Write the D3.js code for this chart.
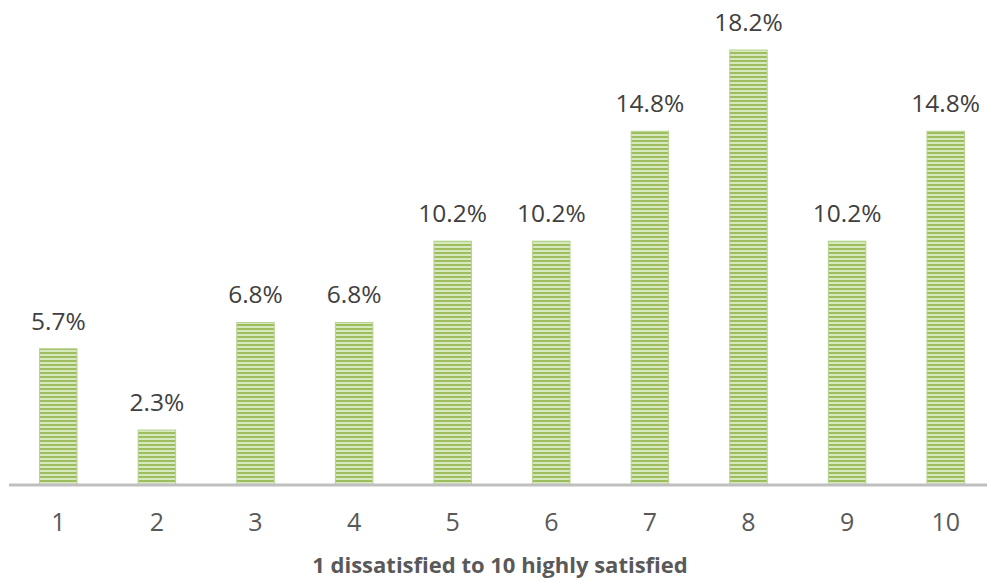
<!DOCTYPE html>
<html><head><meta charset="utf-8">
<script src="https://cdn.jsdelivr.net/npm/d3@7"></script>
<style>body{margin:0;background:#fff}svg{display:block}</style>
</head><body>
<svg id="c" width="987" height="582"></svg>
<script>
const categories = ["1","2","3","4","5","6","7","8","9","10"];
const values = [5.7, 2.3, 6.8, 6.8, 10.2, 10.2, 14.8, 18.2, 10.2, 14.8];
const valueLabels = ["5.7%","2.3%","6.8%","6.8%","10.2%","10.2%","14.8%","18.2%","10.2%","14.8%"];
const axisTitle = "1 dissatisfied to 10 highly satisfied";

const svg = d3.select("#c");
const base = 485;
const x = d3.scaleBand().domain(categories).range([9, 995]).paddingInner(0.62).paddingOuter(0.31);
const y = d3.scaleLinear().domain([0, 18.2]).range([base, 50]);

const defs = svg.append("defs");
const pat = defs.append("pattern").attr("id","stripes").attr("patternUnits","userSpaceOnUse")
  .attr("width", 8).attr("height", 4);
pat.append("rect").attr("width",8).attr("height",4).attr("fill","#d6e8bd");
pat.append("rect").attr("width",8).attr("height",2).attr("fill","#9ebd5f");

svg.append("g").selectAll("rect").data(values).join("rect")
  .attr("x", (d,i)=>x(categories[i]))
  .attr("width", x.bandwidth())
  .attr("y", d=>y(d))
  .attr("height", d=>base - y(d))
  .attr("fill","url(#stripes)")
  .attr("stroke","#b5d38d").attr("stroke-width",1);

svg.append("g").selectAll("text").data(values).join("text")
  .attr("x", (d,i)=>x(categories[i]) + x.bandwidth()/2)
  .attr("y", d=>y(d) - 19)
  .attr("text-anchor","middle")
  .attr("font-family","'Open Sans', sans-serif")
  .attr("font-size", 24.5)
  .attr("fill","#404040")
  .text((d,i)=>valueLabels[i]);

const ax = svg.append("g").attr("transform",`translate(0,${base})`)
  .call(d3.axisBottom(x).tickSize(0));
ax.select(".domain").attr("stroke","#bfbfbf").attr("stroke-width",3).attr("d","M9,0H987");
ax.selectAll(".tick text").attr("y", 46).attr("dy", 0)
  .attr("font-family","'Open Sans', sans-serif").attr("font-size",25).attr("fill","#595959");

svg.append("text").attr("x", 500).attr("y", 573).attr("text-anchor","middle")
  .attr("font-family","'Open Sans', sans-serif").attr("font-weight","bold")
  .attr("font-size",22).attr("fill","#595959").text(axisTitle);
</script>
</body></html>
